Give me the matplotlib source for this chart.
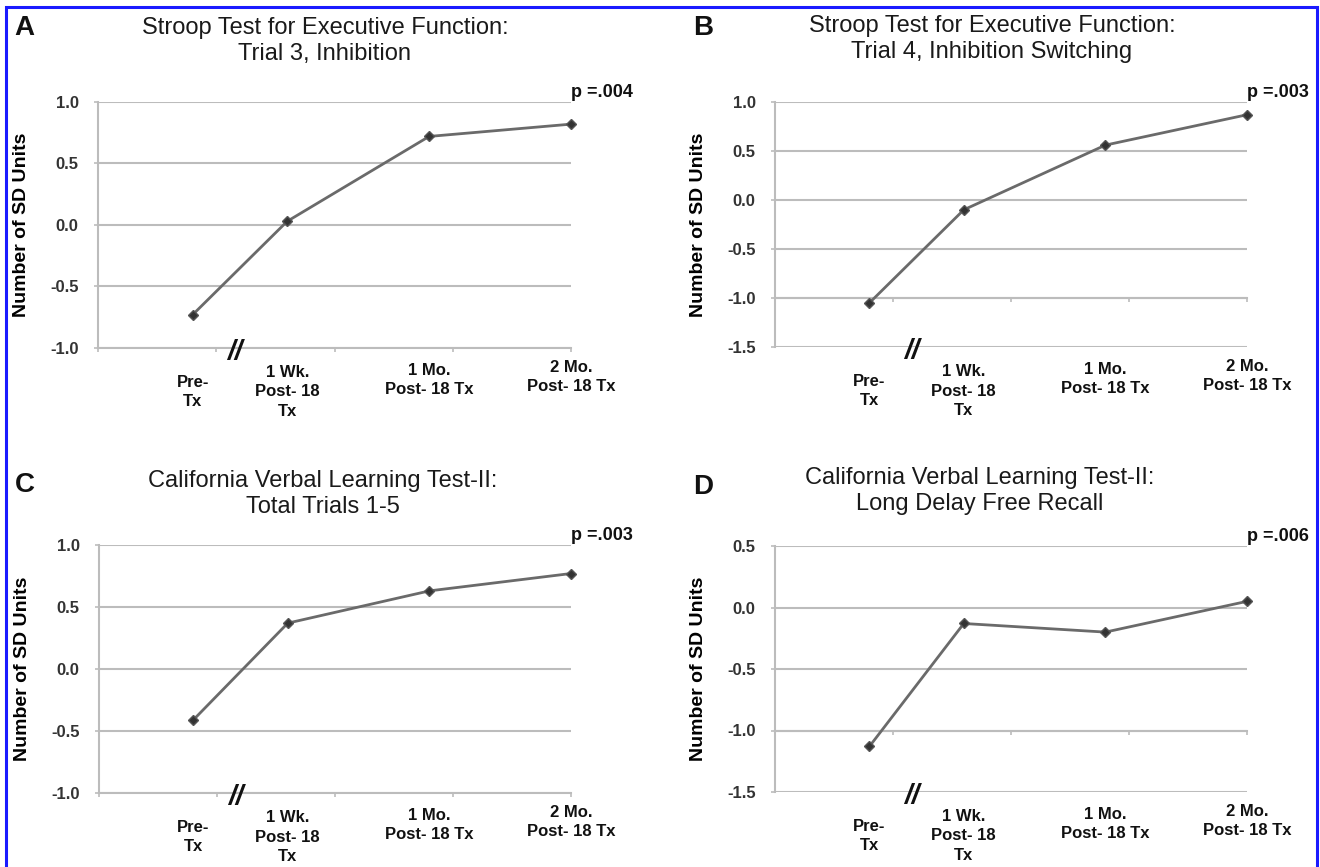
import numpy as np
import matplotlib
matplotlib.use("Agg")
import matplotlib.pyplot as plt
from matplotlib.patches import Rectangle

plt.rcParams['font.family'] = ['Liberation Sans', 'DejaVu Sans']
plt.rcParams['axes.unicode_minus'] = False

# --- DATA (SD units) ---
time_labels = ["Pre-\nTx", "1 Wk.\nPost- 18\nTx", "1 Mo.\nPost- 18 Tx", "2 Mo.\nPost- 18 Tx"]
time_pos = [0.8, 1.6, 2.8, 4.0]   # where each visit sits on the (broken) time axis

stroop_inhibition = [-0.73, 0.03, 0.72, 0.82]
stroop_switching = [-1.05, -0.10, 0.56, 0.87]
cvlt_total = [-0.41, 0.37, 0.63, 0.77]
cvlt_delay = [-1.13, -0.13, -0.20, 0.05]

panel_letters = ["A", "B", "C", "D"]
titles = [
	"Stroop Test for Executive Function:\nTrial 3, Inhibition",
	"Stroop Test for Executive Function:\nTrial 4, Inhibition Switching",
	"California Verbal Learning Test-II:\nTotal Trials 1-5",
	"California Verbal Learning Test-II:\nLong Delay Free Recall",
]
p_values = ["p =.004", "p =.003", "p =.003", "p =.006"]
y_ranges = [(-1.0, 1.0), (-1.5, 1.0), (-1.0, 1.0), (-1.5, 0.5)]

series = [stroop_inhibition, stroop_switching, cvlt_total, cvlt_delay]

# --- LAYOUT (pixels on a 1320x867 canvas) ---
W, H = 1320, 867
boxes = [(98, 102, 571, 348), (775, 102, 1247, 347), (99, 545, 571, 793), (775, 546, 1247, 792)]
title_xy = [(325, 41), (992, 39), (323, 494), (980, 491)]
letter_xy = [(24, 28), (703, 28), (25, 485), (703, 487)]
label_drop = [44, 44, 32, 29]   # px below the axes for each time label

grid_gray = "#bcbcbc"
line_gray = "#6a6a6a"


def px_box(left, top, right, bottom):
	return [left / W, 1 - bottom / H, (right - left) / W, (bottom - top) / H]


fig = plt.figure(figsize=(13.2, 8.67), dpi=100)

for k in range(4):
	ax = fig.add_axes(px_box(*boxes[k]))
	ymin, ymax = y_ranges[k]
	ax.set_xlim(0, 4)
	ax.set_ylim(ymin, ymax)

	yt = np.arange(ymin, ymax + 0.01, 0.5)
	ax.set_yticks(yt, labels=[f"{v:.1f}" for v in yt], fontweight='bold')
	ax.set_xticks([0, 1, 2, 3, 4], labels=[])

	ax.grid(axis='y', color=grid_gray, lw=1.5)
	ax.set_axisbelow(True)
	for s in ['top', 'right']:
		ax.spines[s].set_visible(False)
	for s in ['left', 'bottom']:
		ax.spines[s].set_color(grid_gray)
		ax.spines[s].set_linewidth(1.5)
	# the category axis crosses at -1.0 in every panel
	ax.spines['bottom'].set_position(('data', -1.0))

	ax.tick_params(axis='y', length=3, width=1.2, color=grid_gray, pad=11,
				   labelsize=12, labelcolor='#333333')
	ax.tick_params(axis='x', length=3, width=1.2, color=grid_gray)

	ax.plot(time_pos, series[k], color=line_gray, lw=2.0, marker='D', ms=5.5,
			mfc='#333333', mec='#555555', mew=1, zorder=3, clip_on=False)

	ax.set_ylabel("Number of SD Units", fontsize=14, fontweight='bold', va='center')
	ax.yaxis.set_label_coords(-77 / 473, 0.5)

	# time labels under each visit
	for i, lab in enumerate(time_labels):
		ax.annotate(lab, xy=(time_pos[i], 0), xycoords=('data', 'axes fraction'),
					xytext=(0, -label_drop[i] * 0.72), textcoords='offset points',
					ha='center', va='center', fontsize=12, fontweight='bold',
					color='#111111', linespacing=1.4)

	# axis break mark
	ax.annotate("//", xy=(0.29, 0), xycoords='axes fraction', xytext=(0, -3),
				textcoords='offset points', ha='center', va='center',
				fontsize=20, fontweight='bold', style='italic', color='#111111')

	# p value over the last point
	ax.annotate(p_values[k], xy=(time_pos[-1], 1), xycoords=('data', 'axes fraction'),
				xytext=(0, 6.5), textcoords='offset points', ha='left', va='center',
				fontsize=13, fontweight='bold', color='#111111')

	tx, ty = title_xy[k]
	fig.text(tx / W, 1 - ty / H, titles[k], ha='center', va='center', fontsize=17,
			 color='#1a1a1a', linespacing=1.2)
	lx, ly = letter_xy[k]
	fig.text(lx / W, 1 - ly / H, panel_letters[k], ha='center', va='center',
			 fontsize=20, fontweight='bold', color='#111111')

# blue frame (open at the bottom, as in the source)
fig.add_artist(Rectangle((6 / W, -0.01), (1317 - 6) / W, 1.01 - 7 / H,
						 transform=fig.transFigure, fill=False, ec='#1a1aff', lw=2.2))

fig.savefig("out.png", dpi=100)
